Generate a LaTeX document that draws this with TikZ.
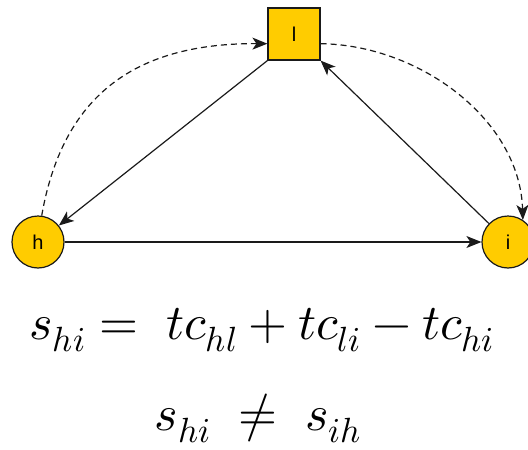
\documentclass[tikz,border=0pt]{standalone}
\usepackage{fontspec}
\usepackage{unicode-math}
\setmathfont{Latin Modern Math}
\setsansfont{Liberation Sans}
\usetikzlibrary{arrows.meta}
\definecolor{gold}{HTML}{FFCC00}
\definecolor{edge}{HTML}{1A1A1A}
\tikzset{
  circ/.style={circle, draw=edge, fill=gold, line width=1.2pt, minimum size=52pt, inner sep=0pt, font=\sffamily\fontsize{20}{22}\selectfont},
  sq/.style={rectangle, draw=edge, fill=gold, line width=1.2pt, minimum size=52pt, inner sep=0pt, font=\sffamily\fontsize{20}{22}\selectfont},
  conn/.style={draw=edge, line width=1.2pt, -{Stealth[length=15pt,width=12pt,inset=4pt]}},
  dconn/.style={conn, dash pattern=on 6pt off 4pt},
  eq/.style={anchor=base, inner sep=0pt, font=\fontsize{50}{60}\selectfont}
}
\begin{document}
\begin{tikzpicture}[x=1pt,y=-1pt]
\useasboundingbox (0,0) rectangle (528,450);
\node[sq] (l) at (294,34) {l};
\node[circ] (h) at (38,242) {h};
\node[circ] (i) at (508,242) {i};
\draw[conn] (l.south west) -- (h);
\draw[conn] (h) -- (i);
\draw[conn] (i) -- (l.south east);
\draw[dconn] (h.82) .. controls (62,100) and (130,43) .. (l.200);
\draw[dconn] (l.-20) .. controls (420,45) and (520,120) .. (i.56);
\node[eq] (e1) at (262,339) {$s_{hi} =\; tc_{hl} + tc_{li} - tc_{hi}$};
\node[eq] (e2) at (258,430) {$s_{hi} \;\neq\; s_{ih}$};
\end{tikzpicture}
\end{document}
